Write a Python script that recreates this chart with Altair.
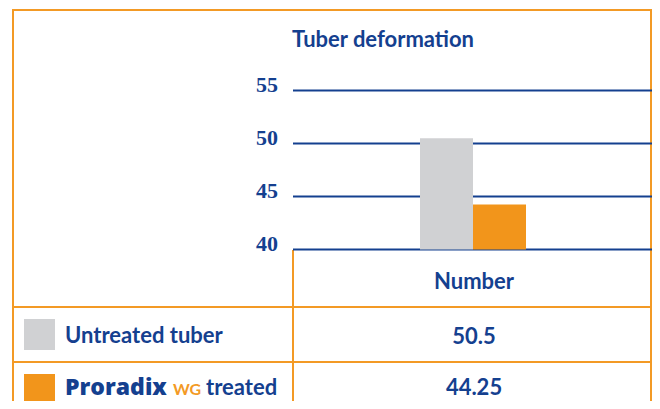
import altair as alt
import pandas as pd

# ---- data ----
groups = ["Untreated tuber", "Proradix treated"]
values = [50.5, 44.25]
value_labels = ["50.5", "44.25"]
bar_colors = ["#d0d1d3", "#f2951b"]
ticks = [40, 45, 50, 55]
title_text = "Tuber deformation"
column_header = "Number"

BLUE = "#14408f"
ORANGE = "#f39a25"
SANS = "Lato"

bars_df = pd.DataFrame({"group": groups, "value": values})
ticks_df = pd.DataFrame({"tick": ticks, "label": [str(t) for t in ticks]})

yscale = alt.Scale(domain=[40, 55], range=[241.5, 82.5], nice=False, zero=False)
xscale = alt.Scale(domain=groups, range=[412, 518], paddingInner=0, paddingOuter=0)
cscale = alt.Scale(domain=groups, range=bar_colors)

one = pd.DataFrame({"a": [0]})

grid = alt.Chart(ticks_df).mark_rule(color=BLUE, strokeWidth=2).encode(
    y=alt.Y("tick:Q", scale=yscale, axis=None),
    x=alt.value(285), x2=alt.value(644),
)
tick_labels = alt.Chart(ticks_df).mark_text(
    align="right", baseline="alphabetic", font="Liberation Serif", fontWeight="bold",
    fontSize=22, color=BLUE, dy=1,
).encode(y=alt.Y("tick:Q", scale=yscale, axis=None), x=alt.value(270), text="label:N")

bars = alt.Chart(bars_df).mark_bar().encode(
    x=alt.X("group:N", scale=xscale, axis=None, sort=groups),
    y=alt.Y("value:Q", scale=yscale, axis=None),
    y2=alt.datum(40),
    color=alt.Color("group:N", scale=cscale, legend=None),
)

def txt(text, x, y, align="left", color=BLUE, size=22, weight="bold", font=SANS):
    return alt.Chart(pd.DataFrame({"t": [text]})).mark_text(
        align=align, baseline="alphabetic", font=font, fontWeight=weight,
        fontSize=size, color=color,
    ).encode(x=alt.value(x), y=alt.value(y), text="t:N")

def hline(x1, x2, y, color=ORANGE, w=2):
    return alt.Chart(one).mark_rule(color=color, strokeWidth=w).encode(
        x=alt.value(x1), x2=alt.value(x2), y=alt.value(y))

def vline(x, y1, y2, color=ORANGE, w=2):
    return alt.Chart(one).mark_rule(color=color, strokeWidth=w).encode(
        x=alt.value(x), y=alt.value(y1), y2=alt.value(y2))

def swatch(color, y1, y2):
    return alt.Chart(one).mark_rect(color=color).encode(
        x=alt.value(16), x2=alt.value(47), y=alt.value(y1), y2=alt.value(y2))

layers = [
    # table borders
    hline(4, 644, 2), vline(5, 1, 393), vline(643, 1, 393),
    vline(285, 242, 393), hline(5, 644, 299), hline(5, 644, 354),
    grid, tick_labels, bars,
    txt(title_text, 284, 39),
    txt(column_header, 466, 281, align="center"),
    swatch(bar_colors[0], 311, 342), swatch(bar_colors[1], 366, 397),
    txt(groups[0], 57, 335),
    txt("Proradix", 57, 387, weight=800, size=23, font="Open Sans"),
    txt("WG", 165, 387, color=ORANGE, size=16),
    txt("treated", 198, 387),
    txt(value_labels[0], 466, 336, align="center"),
    txt(value_labels[1], 466, 387, align="center"),
]

chart = alt.layer(*layers).properties(
    width=644, height=393, padding=0, autosize=alt.AutoSizeParams(type="none"),
    background="white",
).configure_view(stroke=None)

chart.save("out.html", embed_options={"renderer": "svg", "actions": False})
